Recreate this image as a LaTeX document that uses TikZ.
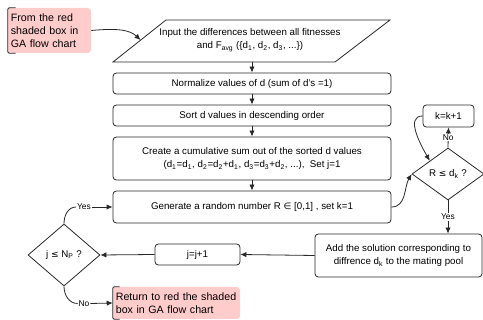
\documentclass[tikz,border=0pt]{standalone}
\usepackage{fontspec}
\setmainfont{Liberation Sans}
\newfontfamily\symfont{DejaVu Sans}
\usetikzlibrary{arrows.meta,shapes.geometric,calc}
\definecolor{pinkfill}{RGB}{255,204,204}
\definecolor{edge}{RGB}{40,40,40}
\begin{document}
\begin{tikzpicture}[x=0.75pt,y=-0.75pt,
  box/.style={draw=edge, rounded corners=2.5pt, line width=0.6pt, align=center,
    font=\fontsize{7.3}{10}\selectfont, inner sep=0pt},
  dia/.style={draw=edge, diamond, line width=0.6pt, inner sep=0pt,
    font=\fontsize{7.3}{10}\selectfont},
  redbox/.style={fill=pinkfill, rounded corners=2.5pt, align=left, inner sep=0pt,
    font=\fontsize{8}{9.8}\selectfont},
  bracket/.style={draw=edge, line width=0.7pt, rounded corners=1.5pt},
  arr/.style={draw=edge, line width=0.6pt, -{Latex[length=4.5pt,width=4pt]}},
  ln/.style={draw=edge, line width=0.6pt},
  lbl/.style={fill=white, inner sep=0.6pt, font=\fontsize{6.3}{7}\selectfont}
]
\useasboundingbox (0,0) rectangle (483,320);

% source box
\node[redbox, minimum width=62.25pt, minimum height=33.75pt, text width=58pt] (src) at (49.5,30.5)
  {From the red\\shaded box in\\GA flow chart};
\draw[bracket] ($(src.north west)+(8,0)$) -- (src.north west) -- (src.south west) -- ($(src.south west)+(8,0)$);

% parallelogram
\coordinate (ptl) at (166,20);
\coordinate (ptr) at (390,20);
\coordinate (pbr) at (335,62);
\coordinate (pbl) at (113,62);
\draw[ln] (ptl) -- (ptr) -- (pbr) -- (pbl) -- cycle;
\node[align=center, font=\fontsize{7.3}{9.8}\selectfont, inner sep=0pt] (inp) at (250,40)
  {Input the differences between all fitnesses\\and F\textsubscript{avg} (\{d\textsubscript{1}, d\textsubscript{2}, d\textsubscript{3}, ...\})};
\coordinate (pin) at (140.5,40);
\coordinate (pout) at (252,62);

% main boxes
\node[box, minimum width=208.5pt, minimum height=15.75pt] (norm) at (252,83.5)
  {Normalize values of d (sum of d's =1)};
\node[box, minimum width=208.5pt, minimum height=15.75pt] (sort) at (252,115.5)
  {Sort d values in descending order};
\node[box, minimum width=208.5pt, minimum height=32.25pt] (cum) at (252,158.5)
  {Create a cumulative sum out of the sorted d values\\(d\textsubscript{1}=d\textsubscript{1}, d\textsubscript{2}=d\textsubscript{2}+d\textsubscript{1}, d\textsubscript{3}=d\textsubscript{3}+d\textsubscript{2}, ...),\ \ Set j=1};
\node[box, minimum width=208.5pt, minimum height=24pt] (gen) at (252,207)
  {Generate a random number R {\symfont\fontsize{6.8}{9}\selectfont ∈} [0,1] , set k=1};

\node[box, minimum width=38.25pt, minimum height=16.5pt] (kk) at (448.5,116) {k=k+1};
\node[dia, minimum width=54pt, minimum height=39pt] (rd) at (448,174)
  {R {\symfont\fontsize{6.8}{9}\selectfont ≤} d\textsubscript{k} ?};
\node[box, minimum width=125.25pt, minimum height=32.25pt] (add) at (398.5,255.5)
  {Add the solution corresponding to\\diffrence d\textsubscript{k} to the mating pool};
\node[box, minimum width=63.75pt, minimum height=15.75pt] (jj) at (197.5,254.5) {j=j+1};
\node[dia, minimum width=54pt, minimum height=46.5pt] (jd) at (64,255)
  {j {\symfont\fontsize{6.8}{9}\selectfont ≤} N\textsubscript{P} ?};

\node[redbox, minimum width=95.25pt, minimum height=24pt, text width=91pt] (ret) at (176.5,303)
  {Return to red the shaded\\box in GA flow chart};
\draw[bracket] ($(ret.north west)+(7,0)$) -- (ret.north west) -- (ret.south west) -- ($(ret.south west)+(7,0)$);

% connectors
\draw[arr] (src.east) .. controls (118,28) and (130,30) .. (pin);
\draw[arr] (pout) -- (norm.north);
\draw[arr] (norm.south) -- (sort.north);
\draw[arr] (sort.south) -- (cum.north);
\draw[arr] (cum.south) -- (gen.north);
\draw[arr] (gen.east) to[out=0,in=240] (rd.west);
\draw[arr] (rd.north) -- node[lbl]{No} (kk.south);
\draw[arr] (kk.west) to[out=180,in=120] (rd.north west);
\draw[arr] (rd.south) -- node[lbl,pos=0.5]{Yes} (rd.south |- add.north);
\draw[arr] (add.west) -- (jj.east);
\draw[arr] (jj.west) -- (jd.east);

\node[lbl] (yes1) at (84,207) {Yes};
\draw[ln] (jd.north) to[out=90,in=180] (yes1.west);
\draw[arr] (yes1.east) -- (gen.west);
\node[lbl] (no1) at (84,303.5) {No};
\draw[ln] (jd.south) to[out=-90,in=180] (no1.west);
\draw[arr] (no1.east) -- (ret.west);
\end{tikzpicture}
\end{document}
